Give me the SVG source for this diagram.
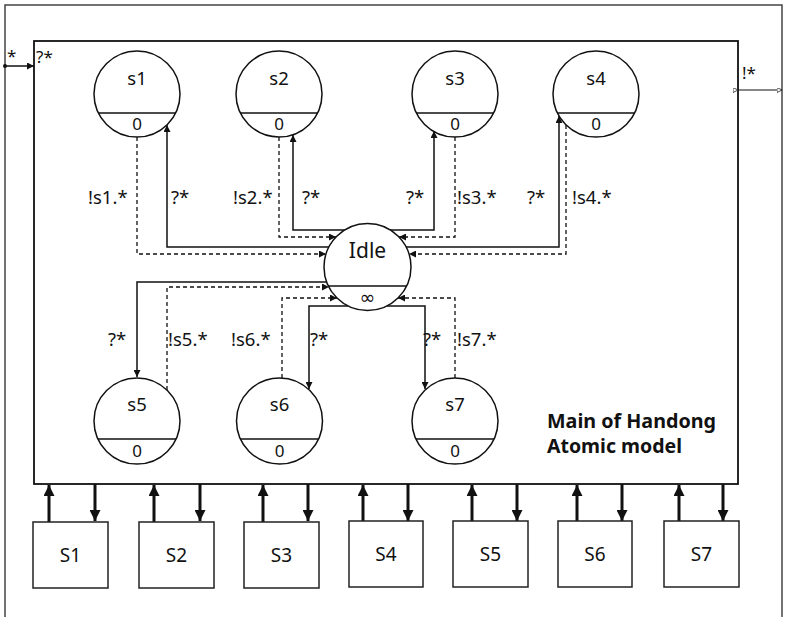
<svg xmlns="http://www.w3.org/2000/svg" width="787" height="617" viewBox="0 0 787 617">
<style>
text{font-family:"Noto Sans","DejaVu Sans",sans-serif;fill:#111}
.st{fill:#fff;stroke:#111;stroke-width:1.5}
.div{stroke:#111;stroke-width:1.3}
.nm{font-size:18.5px;text-anchor:middle}
.ta{font-size:17px;text-anchor:middle}
.lb{font-size:18.5px}
.bx{font-size:19px;text-anchor:middle}
.sol{fill:none;stroke:#111;stroke-width:1.5}
.dsh{fill:none;stroke:#111;stroke-width:1.3;stroke-dasharray:4 3}
.thick{fill:none;stroke:#111;stroke-width:3}
.box{fill:#fff;stroke:#222;stroke-width:1.5}
</style>
<defs>
<marker id="ah" viewBox="0 0 10 10" refX="10" refY="5" markerWidth="8" markerHeight="7" markerUnits="userSpaceOnUse" orient="auto"><path d="M0,0L10,5L0,10z" fill="#111"/></marker>
<marker id="ahb" viewBox="0 0 10 10" refX="10" refY="5" markerWidth="11" markerHeight="11" markerUnits="userSpaceOnUse" orient="auto"><path d="M0,0L10,5L0,10z" fill="#111"/></marker>
<marker id="oh" viewBox="0 0 10 10" refX="10" refY="5" markerWidth="6" markerHeight="5" markerUnits="userSpaceOnUse" orient="auto"><path d="M0,0L10,5L0,10z" fill="#fff" stroke="#111" stroke-width="1.5"/></marker>
<marker id="dot" viewBox="0 0 10 10" refX="5" refY="5" markerWidth="4" markerHeight="4" markerUnits="userSpaceOnUse"><circle cx="5" cy="5" r="5" fill="#111"/></marker>
</defs>
<rect width="787" height="617" fill="#fff"/>
<g id="outer-frame">
<path d="M5,617V5H782V617" fill="none" stroke="#444" stroke-width="1.5"/>
</g>
<g id="main-model">
<rect x="34" y="41" width="704" height="443" fill="#fff" stroke="#111" stroke-width="1.8"/>
<text x="547" y="428" style="font-size:19px;font-weight:bold" textLength="169" lengthAdjust="spacingAndGlyphs">Main of Handong</text>
<text x="547" y="453" style="font-size:19px;font-weight:bold" textLength="135" lengthAdjust="spacingAndGlyphs">Atomic model</text>
</g>
<g id="ports">
<path d="M5,66H34" class="sol" stroke-width="1.3" marker-start="url(#dot)" marker-end="url(#ah)"/>
<text x="7" y="62" class="lb" style="font-size:17px">*</text>
<text x="36" y="63" class="lb" style="font-size:17px">?*</text>
<path d="M738,90H782" fill="none" stroke="#111" stroke-width="1.2" marker-start="url(#oh)" marker-end="url(#oh)"/>
<text x="742" y="79" class="lb" style="font-size:17px">!*</text>
</g>
<g id="connectors">
<path class="dsh" d="M137,137V254H326" marker-end="url(#ah)"/>
<path class="sol" d="M329,247H167V125" marker-end="url(#ah)"/>
<path class="dsh" d="M279,137V237H336" marker-end="url(#ah)"/>
<path class="sol" d="M345,230H293V135" marker-end="url(#ah)"/>
<path class="sol" d="M390,230H434V131" marker-end="url(#ah)"/>
<path class="dsh" d="M455,137V237H399" marker-end="url(#ah)"/>
<path class="sol" d="M406,247H559V116" marker-end="url(#ah)"/>
<path class="dsh" d="M566,125V254H409" marker-end="url(#ah)"/>
<path class="sol" d="M327,282H137V377" marker-end="url(#ah)"/>
<path class="dsh" d="M167,390V287H329" marker-end="url(#ah)"/>
<path class="dsh" d="M282,378V298H337" marker-end="url(#ah)"/>
<path class="sol" d="M348,306H309V389" marker-end="url(#ah)"/>
<path class="sol" d="M387,306H425V389" marker-end="url(#ah)"/>
<path class="dsh" d="M455,378V298H398" marker-end="url(#ah)"/>
<path class="thick" d="M49,522V485" marker-end="url(#ahb)"/>
<path class="thick" d="M95,484V521" marker-end="url(#ahb)"/>
<path class="thick" d="M154,522V485" marker-end="url(#ahb)"/>
<path class="thick" d="M200,484V521" marker-end="url(#ahb)"/>
<path class="thick" d="M263,522V485" marker-end="url(#ahb)"/>
<path class="thick" d="M308,484V521" marker-end="url(#ahb)"/>
<path class="thick" d="M363,521V485" marker-end="url(#ahb)"/>
<path class="thick" d="M408,484V521" marker-end="url(#ahb)"/>
<path class="thick" d="M472,521V485" marker-end="url(#ahb)"/>
<path class="thick" d="M517,484V521" marker-end="url(#ahb)"/>
<path class="thick" d="M577,522V485" marker-end="url(#ahb)"/>
<path class="thick" d="M622,484V521" marker-end="url(#ahb)"/>
<path class="thick" d="M679,521V485" marker-end="url(#ahb)"/>
<path class="thick" d="M723,484V521" marker-end="url(#ahb)"/>
<text x="88" y="204" class="lb">!s1.*</text>
<text x="171" y="204" class="lb">?*</text>
<text x="233" y="204" class="lb">!s2.*</text>
<text x="302" y="204" class="lb">?*</text>
<text x="406" y="204" class="lb">?*</text>
<text x="457" y="204" class="lb">!s3.*</text>
<text x="527" y="204" class="lb">?*</text>
<text x="572" y="204" class="lb">!s4.*</text>
<text x="108" y="346" class="lb">?*</text>
<text x="168" y="346" class="lb">!s5.*</text>
<text x="231" y="346" class="lb">!s6.*</text>
<text x="310" y="346" class="lb">?*</text>
<text x="423" y="346" class="lb">?*</text>
<text x="457" y="346" class="lb">!s7.*</text>
</g>
<g id="s1"><circle class="st" cx="137" cy="94" r="43"/><line class="div" x1="98.4" y1="113" x2="175.6" y2="113"/><text class="nm" x="137" y="85">s1</text><text class="ta" x="137" y="130">0</text></g>
<g id="s2"><circle class="st" cx="279" cy="94" r="43"/><line class="div" x1="240.4" y1="113" x2="317.6" y2="113"/><text class="nm" x="279" y="85">s2</text><text class="ta" x="279" y="130">0</text></g>
<g id="s3"><circle class="st" cx="455" cy="94" r="43"/><line class="div" x1="416.4" y1="113" x2="493.6" y2="113"/><text class="nm" x="455" y="85">s3</text><text class="ta" x="455" y="130">0</text></g>
<g id="s4"><circle class="st" cx="596" cy="94" r="43"/><line class="div" x1="557.4" y1="113" x2="634.6" y2="113"/><text class="nm" x="596" y="85">s4</text><text class="ta" x="596" y="130">0</text></g>
<g id="idle"><circle class="st" cx="367.5" cy="267" r="43.5"/><line class="div" x1="328.4" y1="286" x2="406.6" y2="286"/><text x="367.5" y="258" style="font-size:21px;text-anchor:middle">Idle</text><text class="ta" x="367.5" y="304" style="font-size:19px">∞</text></g>
<g id="s5"><circle class="st" cx="137" cy="421" r="43"/><line class="div" x1="98" y1="439" x2="176" y2="439"/><text class="nm" x="137" y="411">s5</text><text class="ta" x="137" y="457">0</text></g>
<g id="s6"><circle class="st" cx="279.5" cy="421" r="43"/><line class="div" x1="240.5" y1="439" x2="318.5" y2="439"/><text class="nm" x="279.5" y="411">s6</text><text class="ta" x="279.5" y="457">0</text></g>
<g id="s7"><circle class="st" cx="455" cy="421" r="43"/><line class="div" x1="416" y1="439" x2="494" y2="439"/><text class="nm" x="455" y="411">s7</text><text class="ta" x="455" y="457">0</text></g>
<g id="S1"><rect class="box" x="33" y="522" width="75" height="66"/><text class="bx" x="70.5" y="562">S1</text></g>
<g id="S2"><rect class="box" x="139" y="522" width="75" height="66"/><text class="bx" x="176.5" y="562">S2</text></g>
<g id="S3"><rect class="box" x="244" y="522" width="75" height="66"/><text class="bx" x="281.5" y="562">S3</text></g>
<g id="S4"><rect class="box" x="349" y="521" width="74" height="66"/><text class="bx" x="386" y="561">S4</text></g>
<g id="S5"><rect class="box" x="453" y="521" width="75" height="66"/><text class="bx" x="490.5" y="561">S5</text></g>
<g id="S6"><rect class="box" x="558" y="521" width="74" height="66"/><text class="bx" x="595" y="561">S6</text></g>
<g id="S7"><rect class="box" x="664" y="521" width="75" height="66"/><text class="bx" x="701.5" y="561">S7</text></g>
</svg>
